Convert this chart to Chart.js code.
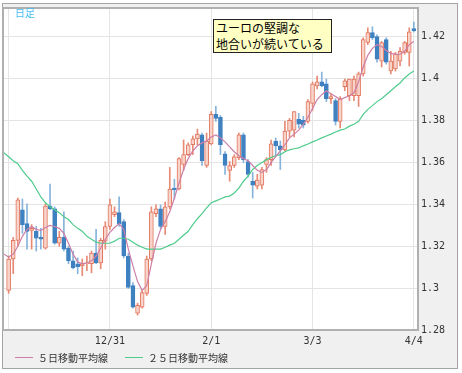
<!DOCTYPE html>
<html>
<head>
<meta charset="utf-8">
<script src="https://cdn.jsdelivr.net/npm/chart.js@4.4.1/dist/chart.umd.min.js"></script>
<style>
  html, body { margin: 0; padding: 0; background: #fff; }
  #wrap { position: relative; width: 462px; height: 373px; overflow: hidden; font-family: 'Noto Sans CJK JP', sans-serif; }
  #frame { position: absolute; left: 2px; top: 3px; width: 454px; height: 364px; border: 1px solid #a4a4a4; background: #f0f0f0; }
  #chart { position: absolute; left: 0; top: 0; }
  .mark { position: absolute; left: 15px; top: 7px; font-size: 10px; line-height: 12px; color: #45bdf0; }
  .note { position: absolute; left: 213px; top: 19px; width: 115px; height: 32px; padding-left: 2px; border: 1px solid #222; background: #ffffc4; font-size: 12px; line-height: 16px; color: #000; white-space: nowrap; }
  .legend { position: absolute; top: 351px; font-size: 10px; line-height: 14px; color: #333; white-space: nowrap; }
  .swatch { position: absolute; top: 357px; width: 18px; height: 1px; }
</style>
</head>
<body>
<div id="wrap">
  <div id="frame"></div>
  <canvas id="chart" width="462" height="373"></canvas>
  <div class="mark">日足</div>
  <div class="note">ユーロの堅調な<br>地合いが続いている</div>
  <div class="swatch" style="left:15px; background:#cc7fa6"></div>
  <div class="legend" style="left:38px">５日移動平均線</div>
  <div class="swatch" style="left:125px; background:#4fcb8c"></div>
  <div class="legend" style="left:148px">２５日移動平均線</div>
</div>
<script>
// daily candles, index 0 .. 88
const opens = [
  1.2989, 1.3139, 1.3228, 1.3374, 1.3308, 1.3275, 1.3271, 1.3242, 1.3191, 1.3392,
  1.3378, 1.3214, 1.3242, 1.3191, 1.3130, 1.3116, 1.3106, 1.3116, 1.3116, 1.3167,
  1.3120, 1.3224, 1.3294, 1.3350, 1.3360, 1.3317, 1.3153, 1.3012, 1.2880, 1.2909,
  1.2975, 1.3139, 1.3355, 1.3378, 1.3294, 1.3388, 1.3477, 1.3473, 1.3590, 1.3637,
  1.3684, 1.3712, 1.3731, 1.3585, 1.3688, 1.3829, 1.3815, 1.3641, 1.3562, 1.3585,
  1.3623, 1.3731, 1.3604, 1.3510, 1.3487, 1.3491, 1.3590, 1.3613, 1.3702, 1.3679,
  1.3660, 1.3749, 1.3754, 1.3806, 1.3801, 1.3796, 1.3881, 1.3965, 1.3984, 1.3975,
  1.3904, 1.3895, 1.3796, 1.3961, 1.3918, 1.3918, 1.3918, 1.4022, 1.4172, 1.4219,
  1.4200, 1.4083, 1.4186, 1.4036, 1.4046, 1.4083, 1.4125, 1.4125, 1.4238
];
const highs = [
  1.3153, 1.3242, 1.3430, 1.3425, 1.3402, 1.3303, 1.3294, 1.3285, 1.3402, 1.3496,
  1.3388, 1.3271, 1.3364, 1.3200, 1.3177, 1.3144, 1.3139, 1.3153, 1.3177, 1.3280,
  1.3238, 1.3317, 1.3425, 1.3388, 1.3435, 1.3327, 1.3167, 1.3026, 1.2928, 1.2989,
  1.3153, 1.3388, 1.3397, 1.3397, 1.3411, 1.3576, 1.3519, 1.3623, 1.3707, 1.3693,
  1.3726, 1.3759, 1.3740, 1.3740, 1.3843, 1.3867, 1.3824, 1.3651, 1.3604, 1.3637,
  1.3740, 1.3740, 1.3613, 1.3552, 1.3543, 1.3576, 1.3623, 1.3707, 1.3717, 1.3702,
  1.3796, 1.3810, 1.3843, 1.3834, 1.3820, 1.3900, 1.3984, 1.4012, 1.4031, 1.3998,
  1.3928, 1.3904, 1.3914, 1.3998, 1.3998, 1.4012, 1.4031, 1.4195, 1.4242, 1.4247,
  1.4209, 1.4177, 1.4195, 1.4130, 1.4125, 1.4148, 1.4177, 1.4242, 1.4270
];
const lows = [
  1.2975, 1.3069, 1.3200, 1.3261, 1.3186, 1.3186, 1.3177, 1.3186, 1.3186, 1.3374,
  1.3209, 1.3200, 1.3177, 1.3116, 1.3092, 1.3069, 1.3059, 1.3083, 1.3073, 1.3116,
  1.3092, 1.3186, 1.3280, 1.3341, 1.3294, 1.3144, 1.2998, 1.2904, 1.2871, 1.2904,
  1.2965, 1.3130, 1.3341, 1.3285, 1.3256, 1.3378, 1.3425, 1.3468, 1.3562, 1.3632,
  1.3637, 1.3684, 1.3585, 1.3576, 1.3684, 1.3796, 1.3637, 1.3543, 1.3510, 1.3576,
  1.3613, 1.3599, 1.3529, 1.3430, 1.3473, 1.3473, 1.3552, 1.3585, 1.3637, 1.3566,
  1.3655, 1.3721, 1.3721, 1.3764, 1.3764, 1.3787, 1.3848, 1.3951, 1.3961, 1.3890,
  1.3881, 1.3778, 1.3764, 1.3942, 1.3895, 1.3895, 1.3867, 1.4012, 1.4162, 1.4186,
  1.4078, 1.4055, 1.4069, 1.4022, 1.4036, 1.4060, 1.4116, 1.4060, 1.4223
];
const closes = [
  1.3139, 1.3228, 1.3421, 1.3303, 1.3271, 1.3285, 1.3238, 1.3233, 1.3392, 1.3378,
  1.3214, 1.3242, 1.3186, 1.3130, 1.3097, 1.3102, 1.3116, 1.3120, 1.3167, 1.3120,
  1.3228, 1.3294, 1.3397, 1.3364, 1.3308, 1.3153, 1.3003, 1.2909, 1.2918, 1.2979,
  1.3139, 1.3364, 1.3378, 1.3294, 1.3388, 1.3473, 1.3468, 1.3618, 1.3637, 1.3684,
  1.3712, 1.3735, 1.3608, 1.3702, 1.3829, 1.3810, 1.3684, 1.3585, 1.3585, 1.3627,
  1.3731, 1.3613, 1.3543, 1.3491, 1.3515, 1.3566, 1.3613, 1.3688, 1.3679, 1.3660,
  1.3749, 1.3801, 1.3843, 1.3782, 1.3778, 1.3890, 1.3975, 1.3984, 1.3965, 1.3904,
  1.3914, 1.3796, 1.3904, 1.3989, 1.3998, 1.3998, 1.4022, 1.4186, 1.4219, 1.4195,
  1.4092, 1.4172, 1.4078, 1.4083, 1.4116, 1.4130, 1.4172, 1.4223, 1.4228
];

// moving averages, index -1 .. 88 (the first point sits at the left edge)
const ma5 = [
  1.3162, 1.3148, 1.3162, 1.3200, 1.3247, 1.3280, 1.3294, 1.3280, 1.3275, 1.3289,
  1.3299, 1.3294, 1.3285, 1.3261, 1.3214, 1.3162, 1.3125, 1.3116, 1.3120, 1.3130,
  1.3153, 1.3191, 1.3233, 1.3266, 1.3289, 1.3308, 1.3280, 1.3186, 1.3106, 1.3031,
  1.2989, 1.3012, 1.3116, 1.3214, 1.3280, 1.3317, 1.3364, 1.3430, 1.3501, 1.3566,
  1.3618, 1.3655, 1.3679, 1.3693, 1.3702, 1.3721, 1.3731, 1.3717, 1.3698, 1.3674,
  1.3651, 1.3632, 1.3618, 1.3608, 1.3585, 1.3562, 1.3552, 1.3566, 1.3599, 1.3627,
  1.3655, 1.3684, 1.3717, 1.3735, 1.3754, 1.3782, 1.3815, 1.3857, 1.3900, 1.3923,
  1.3942, 1.3928, 1.3914, 1.3900, 1.3909, 1.3918, 1.3932, 1.3984, 1.4055, 1.4111,
  1.4144, 1.4162, 1.4153, 1.4134, 1.4120, 1.4116, 1.4116, 1.4130, 1.4162, 1.4177
];
const ma25 = [
  1.3646, 1.3627, 1.3608, 1.3594, 1.3562, 1.3534, 1.3510, 1.3473, 1.3435, 1.3407,
  1.3388, 1.3374, 1.3360, 1.3341, 1.3327, 1.3303, 1.3285, 1.3271, 1.3247, 1.3233,
  1.3219, 1.3214, 1.3214, 1.3214, 1.3224, 1.3238, 1.3238, 1.3233, 1.3219, 1.3205,
  1.3195, 1.3186, 1.3186, 1.3186, 1.3186, 1.3195, 1.3205, 1.3214, 1.3233, 1.3252,
  1.3271, 1.3303, 1.3331, 1.3355, 1.3383, 1.3407, 1.3416, 1.3425, 1.3435, 1.3439,
  1.3454, 1.3477, 1.3510, 1.3534, 1.3566, 1.3585, 1.3599, 1.3613, 1.3623, 1.3632,
  1.3637, 1.3651, 1.3660, 1.3665, 1.3669, 1.3679, 1.3688, 1.3698, 1.3707, 1.3717,
  1.3726, 1.3735, 1.3745, 1.3754, 1.3759, 1.3773, 1.3782, 1.3796, 1.3829, 1.3853,
  1.3871, 1.3890, 1.3904, 1.3923, 1.3942, 1.3961, 1.3979, 1.4003, 1.4022, 1.4036
];

const tickIdx = [0, 22, 44, 66, 88];
const tickLabels = ['', '12/31', '2/1', '3/3', '4/4'];

const up = closes.map((c, i) => c >= opens[i]);
const bodies = opens.map((o, i) => ({ x: i, y: [o, closes[i]] }));
const wicks = lows.map((l, i) => ({ x: i, y: [l, highs[i]] }));
const ma5Pts = ma5.map((v, i) => ({ x: i - 1, y: v }));
const ma25Pts = ma25.map((v, i) => ({ x: i - 1, y: v }));

const gridColor = '#e4e4e4';
const tickFont = { family: "'DejaVu Sans Mono', monospace", size: 10 };

const plotFrame = {
  id: 'plotFrame',
  beforeDraw(chart) {
    const { ctx, chartArea: a } = chart;
    ctx.save();
    ctx.fillStyle = '#fff';
    ctx.fillRect(a.left, a.top, a.width, a.height);
    ctx.restore();
  },
  afterDraw(chart) {
    const { ctx, chartArea: a } = chart;
    ctx.save();
    ctx.strokeStyle = '#b0b0b0';
    ctx.lineWidth = 2;
    ctx.strokeRect(a.left - 1, a.top - 1, a.width + 1, a.height + 1);
    ctx.restore();
  },
};

new Chart(document.getElementById('chart'), {
  type: 'bar',
  data: {
    datasets: [
      {
        type: 'line',
        data: ma5Pts,
        borderColor: '#cc7fa6',
        borderWidth: 1.2,
        pointRadius: 0,
        order: 1,
      },
      {
        type: 'line',
        data: ma25Pts,
        borderColor: '#4fcb8c',
        borderWidth: 1.2,
        pointRadius: 0,
        order: 2,
      },
      {
        data: bodies,
        backgroundColor: up.map(u => (u ? '#f8d3ca' : '#3e80c0')),
        borderColor: up.map(u => (u ? '#e2765e' : '#3e80c0')),
        borderWidth: 1,
        borderSkipped: false,
        barThickness: 4,
        grouped: false,
        order: 3,
      },
      {
        data: wicks,
        backgroundColor: up.map(u => (u ? '#e88a74' : '#86b3dc')),
        borderWidth: 0,
        barThickness: 1,
        grouped: false,
        order: 4,
      },
    ],
  },
  options: {
    responsive: false,
    animation: false,
    layout: { padding: { left: 4, top: 4, right: 0, bottom: 0 } },
    plugins: {
      legend: { display: false },
      tooltip: { enabled: false },
    },
    scales: {
      x: {
        type: 'linear',
        min: -1,
        max: 88.9,
        offset: false,
        afterBuildTicks: scale => {
          scale.ticks = tickIdx.map(v => ({ value: v }))
        },
        afterFit: scale => {
          scale.height = 43
        },
        ticks: {
          autoSkip: false,
          maxRotation: 0,
          padding: 5,
          color: '#333',
          font: tickFont,
          callback: value => tickLabels[tickIdx.indexOf(value)] ?? '',
        },
        grid: { color: gridColor, offset: false, drawTicks: false },
        border: { display: false },
      },
      y: {
        position: 'right',
        min: 1.28,
        max: 1.4332,
        afterFit: scale => {
          scale.width = 44
        },
        ticks: {
          stepSize: 0.02,
          includeBounds: false,
          padding: 3,
          color: '#333',
          font: tickFont,
          callback: value => String(parseFloat(value.toFixed(2))),
        },
        grid: { color: gridColor, drawTicks: false },
        border: { display: false },
      },
    },
  },
  plugins: [plotFrame],
});
</script>
</body>
</html>
